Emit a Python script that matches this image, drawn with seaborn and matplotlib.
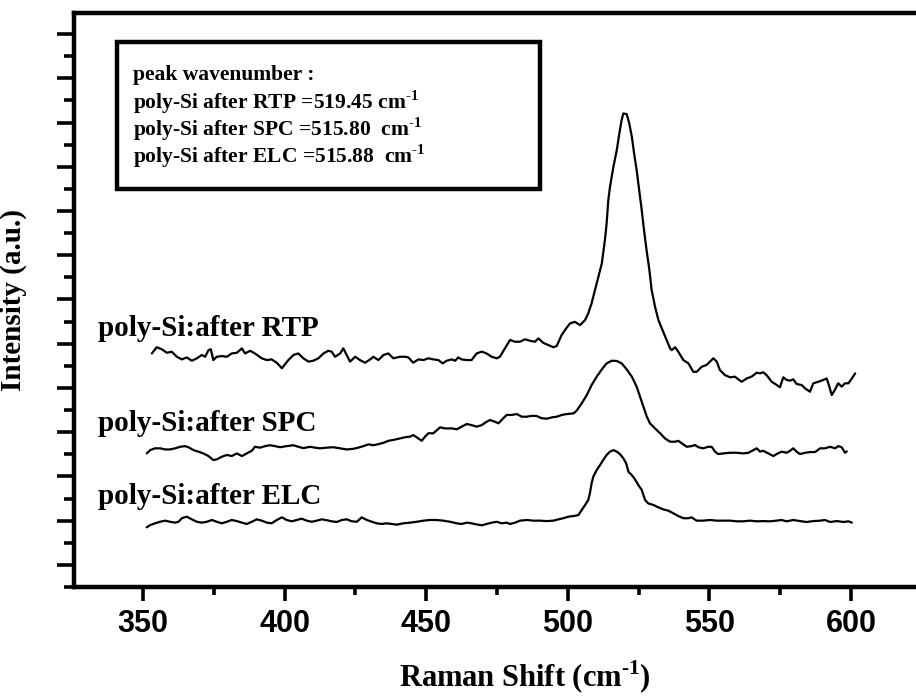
import numpy as np
import pandas as pd
import matplotlib
matplotlib.use("Agg")
import matplotlib.pyplot as plt
from matplotlib.ticker import FixedLocator, MultipleLocator
from matplotlib.patches import Rectangle
import seaborn as sns

# Raman spectra (x: cm-1, y: arbitrary units)
rtp_x = [353.1, 354.8, 356.6, 358.4, 360.1, 361.9, 363.7, 365.4, 367.2, 369.0, 370.7, 371.9,
         373.1, 373.9, 374.8, 376.0, 377.8, 379.6, 381.3, 383.1, 384.9, 386.0, 387.8, 389.5,
         391.9, 393.7, 395.4, 397.2, 399.0, 401.3, 403.1, 404.8, 406.6, 408.4, 410.1, 411.9,
         413.7, 415.4, 416.6, 417.8, 419.6, 420.7, 421.9, 423.1, 424.9, 426.6, 428.4, 430.2,
         431.3, 433.1, 434.9, 436.6, 438.4, 440.7, 442.5, 443.7, 445.4, 447.2, 449.0, 450.7,
         452.5, 454.3, 455.8, 457.2, 459.0, 460.2, 461.3, 462.5, 464.3, 466.0, 467.8, 469.6,
         471.3, 473.1, 474.9, 476.0, 477.8, 479.6, 481.3, 483.1, 484.9, 486.7, 488.4, 489.6,
         491.3, 493.1, 494.9, 496.1, 497.8, 499.4, 500.8, 502.5, 504.3, 506.1, 507.2, 508.4,
         509.6, 510.8, 512.0, 513.1, 513.7, 514.3, 514.9, 516.1, 517.3, 518.2, 519.0, 519.6,
         520.8, 521.7, 522.6, 523.4, 524.3, 525.2, 526.1, 526.9, 527.8, 528.8, 529.6, 530.8,
         532.0, 533.2, 534.9, 536.1, 536.7, 537.9, 539.0, 540.8, 542.6, 544.3, 545.5, 547.3,
         549.0, 550.2, 551.4, 552.6, 553.7, 555.5, 557.3, 559.0, 560.2, 561.4, 563.2, 564.9,
         566.7, 567.9, 569.0, 570.2, 572.0, 573.8, 574.9, 576.1, 577.3, 578.5, 579.6, 580.8,
         582.6, 583.8, 585.5, 586.7, 588.5, 590.2, 591.4, 592.0, 593.2, 594.3, 595.5, 596.7,
         597.9, 599.1, 600.3, 601.5]
rtp_y = [10.56, 10.84, 10.75, 10.59, 10.64, 10.41, 10.29, 10.38, 10.23, 10.34, 10.49, 10.41,
         10.71, 10.75, 10.26, 10.41, 10.44, 10.41, 10.56, 10.59, 10.79, 10.56, 10.68, 10.56,
         10.34, 10.26, 10.29, 10.14, 9.89, 10.26, 10.49, 10.56, 10.34, 10.19, 10.23, 10.34,
         10.56, 10.68, 10.64, 10.41, 10.56, 10.79, 10.49, 10.19, 10.41, 10.26, 10.14, 10.29,
         10.41, 10.26, 10.49, 10.56, 10.34, 10.41, 10.41, 10.38, 10.14, 10.29, 10.26, 10.34,
         10.29, 10.26, 10.11, 10.23, 10.29, 10.23, 10.38, 10.29, 10.26, 10.26, 10.56, 10.64,
         10.56, 10.41, 10.34, 10.41, 10.79, 11.17, 11.09, 11.09, 11.20, 11.13, 11.09, 11.24,
         11.04, 10.94, 10.84, 10.90, 11.39, 11.69, 11.92, 11.99, 11.84, 12.07, 12.37, 12.83,
         13.43, 14.03, 14.63, 15.69, 16.44, 17.50, 18.10, 19.00, 19.76, 20.51, 21.11, 21.41,
         21.38, 20.96, 20.36, 19.61, 18.85, 17.95, 17.04, 16.14, 15.24, 14.33, 13.43, 12.67,
         12.07, 11.69, 11.17, 10.79, 10.71, 10.84, 10.64, 10.26, 10.11, 9.73, 9.73, 9.96,
         10.04, 10.19, 10.34, 10.19, 9.81, 9.58, 9.48, 9.51, 9.39, 9.28, 9.43, 9.51,
         9.69, 9.66, 9.71, 9.58, 9.28, 9.13, 9.03, 9.48, 9.36, 9.33, 9.39, 9.18,
         9.13, 8.98, 8.83, 9.21, 9.28, 9.36, 9.43, 9.21, 8.68, 8.91, 9.21, 9.06,
         9.21, 9.21, 9.43, 9.66]

spc_x = [351.3, 352.5, 354.2, 356.0, 357.8, 359.5, 361.3, 363.1, 364.8, 366.0, 367.8, 369.5,
         371.3, 373.1, 374.8, 376.0, 377.8, 379.6, 381.3, 383.1, 384.9, 386.6, 388.4, 389.5,
         391.3, 393.1, 394.8, 396.6, 398.4, 400.7, 403.1, 404.8, 406.6, 409.0, 410.7, 412.5,
         414.9, 417.2, 419.6, 421.9, 424.3, 426.0, 427.8, 429.6, 431.3, 433.1, 434.9, 436.6,
         438.4, 440.7, 442.5, 444.3, 445.4, 446.6, 448.4, 449.6, 450.7, 452.5, 454.9, 456.6,
         459.0, 460.8, 462.5, 464.3, 466.0, 467.8, 469.6, 471.3, 472.5, 474.3, 475.5, 477.2,
         478.4, 480.2, 482.0, 483.7, 485.5, 487.3, 489.0, 490.8, 492.6, 494.4, 496.1, 497.9,
         499.6, 502.0, 503.1, 504.9, 506.7, 508.4, 510.2, 512.0, 513.7, 515.5, 517.3, 519.0,
         520.8, 522.6, 524.3, 525.5, 526.7, 527.9, 529.0, 530.8, 532.6, 534.3, 536.1, 537.9,
         539.0, 540.2, 542.0, 543.7, 544.9, 546.1, 547.8, 549.6, 550.8, 552.0, 553.1, 554.9,
         557.3, 559.6, 562.0, 563.8, 565.5, 566.7, 567.9, 569.0, 570.8, 572.6, 573.7, 575.5,
         577.3, 578.5, 579.6, 580.8, 582.0, 583.8, 585.5, 587.3, 589.1, 590.8, 592.6, 594.4,
         595.5, 596.7, 597.9, 598.5]
spc_y = [6.04, 6.19, 6.27, 6.27, 6.22, 6.22, 6.27, 6.34, 6.37, 6.32, 6.19, 6.12,
         6.04, 5.92, 5.74, 5.77, 5.89, 5.97, 5.92, 6.04, 5.92, 6.04, 6.16, 6.34,
         6.30, 6.37, 6.41, 6.37, 6.32, 6.37, 6.41, 6.34, 6.28, 6.34, 6.30, 6.27,
         6.30, 6.32, 6.27, 6.22, 6.25, 6.30, 6.37, 6.45, 6.41, 6.46, 6.52, 6.61,
         6.65, 6.72, 6.77, 6.80, 6.87, 6.77, 6.61, 6.80, 6.95, 6.95, 7.22, 7.17,
         7.17, 7.13, 7.25, 7.37, 7.32, 7.25, 7.32, 7.47, 7.55, 7.47, 7.40, 7.63,
         7.78, 7.78, 7.82, 7.70, 7.70, 7.74, 7.73, 7.63, 7.61, 7.67, 7.70, 7.78,
         7.82, 7.85, 7.97, 8.30, 8.68, 9.13, 9.51, 9.84, 10.11, 10.23, 10.22, 10.11,
         9.84, 9.51, 9.06, 8.60, 8.15, 7.70, 7.40, 7.17, 6.95, 6.72, 6.57, 6.57,
         6.61, 6.50, 6.34, 6.37, 6.42, 6.32, 6.27, 6.34, 6.34, 6.12, 6.01, 6.04,
         6.07, 6.07, 6.04, 6.07, 6.19, 6.27, 6.12, 6.16, 6.04, 5.92, 6.01, 6.12,
         6.07, 6.16, 6.27, 6.12, 6.01, 6.07, 6.10, 6.10, 6.27, 6.27, 6.34, 6.27,
         6.37, 6.32, 6.07, 6.13]

elc_x = [351.3, 352.5, 354.2, 356.0, 357.8, 359.5, 361.3, 362.5, 363.7, 365.4, 367.2, 369.0,
         370.7, 372.5, 374.3, 376.0, 377.8, 379.6, 381.3, 383.1, 384.9, 386.6, 388.4, 390.2,
         391.9, 393.7, 395.4, 397.2, 399.0, 400.7, 402.5, 404.3, 406.0, 407.8, 409.6, 411.3,
         413.1, 414.9, 416.6, 418.4, 420.2, 421.9, 423.7, 425.5, 427.2, 429.0, 430.8, 432.5,
         434.3, 436.0, 437.8, 439.6, 441.9, 444.3, 446.6, 449.0, 451.3, 453.7, 456.0, 458.4,
         460.7, 462.5, 464.3, 466.0, 467.8, 469.6, 471.3, 473.1, 474.9, 476.6, 478.4, 479.6,
         481.4, 483.1, 485.5, 487.8, 490.2, 492.6, 494.9, 496.7, 498.4, 500.2, 502.0, 503.7,
         504.9, 506.1, 507.2, 507.8, 508.4, 509.0, 510.2, 511.4, 512.5, 513.7, 514.9, 516.1,
         517.3, 518.4, 519.6, 520.6, 521.4, 522.6, 523.7, 524.9, 526.1, 526.9, 527.3, 528.4,
         530.2, 532.0, 533.7, 535.5, 537.3, 539.0, 540.8, 542.6, 543.7, 545.5, 547.9, 550.2,
         552.6, 554.9, 557.3, 559.6, 562.0, 564.3, 566.7, 569.0, 571.4, 573.7, 575.5, 577.3,
         579.6, 582.0, 584.3, 586.7, 589.1, 590.8, 592.6, 595.0, 597.3, 599.1, 600.3]
elc_y = [2.70, 2.80, 2.88, 2.95, 3.00, 2.95, 2.91, 2.95, 3.11, 3.18, 3.06, 2.95,
         2.91, 2.95, 3.03, 2.95, 2.88, 2.95, 3.03, 2.98, 2.91, 2.85, 2.95, 3.06,
         3.00, 2.91, 2.88, 3.03, 3.15, 3.03, 2.97, 3.03, 3.09, 3.00, 2.95, 3.00,
         3.06, 3.02, 2.97, 2.94, 3.03, 3.06, 2.97, 2.95, 3.15, 3.03, 2.95, 2.88,
         2.85, 2.88, 2.85, 2.82, 2.88, 2.91, 2.95, 3.00, 3.03, 3.03, 3.00, 2.95,
         2.88, 2.85, 2.91, 2.88, 2.83, 2.79, 2.85, 2.91, 2.95, 2.88, 2.91, 2.85,
         2.91, 3.00, 3.03, 3.00, 3.00, 2.98, 3.00, 3.06, 3.11, 3.18, 3.21, 3.25,
         3.48, 3.71, 3.93, 4.24, 4.69, 4.99, 5.29, 5.52, 5.74, 5.97, 6.12, 6.19,
         6.12, 6.01, 5.82, 5.59, 5.21, 5.06, 4.87, 4.61, 4.39, 4.08, 3.93, 3.78,
         3.71, 3.60, 3.51, 3.45, 3.33, 3.21, 3.11, 3.11, 3.15, 3.00, 3.00, 3.03,
         3.00, 3.00, 3.00, 2.97, 2.97, 3.00, 2.97, 2.98, 2.97, 3.00, 3.03, 2.97,
         3.03, 2.98, 2.94, 2.98, 3.00, 3.03, 2.94, 2.98, 2.94, 2.97, 2.91]

series_names = ["poly-Si:after RTP", "poly-Si:after SPC", "poly-Si:after ELC"]
label_y = [11.71, 7.41, 4.07]
box_lines = ["peak wavenumber :",
             r"poly-Si after RTP =519.45 cm$^{\text{-1}}$",
             r"poly-Si after SPC =515.80  cm$^{\text{-1}}$",
             r"poly-Si after ELC =515.88  cm$^{\text{-1}}$"]
x_ticks = [350, 400, 450, 500, 550, 600]

sns.set_theme(style="ticks")
plt.rcParams.update({
    "font.family": ["Liberation Serif", "DejaVu Serif"],
    "mathtext.fontset": "custom",
    "mathtext.rm": "Liberation Serif:bold",
    "mathtext.bf": "Liberation Serif:bold",
    "axes.linewidth": 3.2,
    "text.color": "black",
    "axes.labelcolor": "black",
    "xtick.color": "black",
    "ytick.color": "black",
    "axes.edgecolor": "black",
})

df = pd.concat([
    pd.DataFrame({"shift": rtp_x, "intensity": rtp_y, "sample": series_names[0]}),
    pd.DataFrame({"shift": spc_x, "intensity": spc_y, "sample": series_names[1]}),
    pd.DataFrame({"shift": elc_x, "intensity": elc_y, "sample": series_names[2]}),
])

fig = plt.figure(figsize=(9.16, 6.97), dpi=100)
ax = fig.add_axes([0.0808, 0.1578, 0.9255, 0.8235])

sns.lineplot(data=df, x="shift", y="intensity", units="sample", estimator=None,
             sort=False, color="black", linewidth=1.6, ax=ax, legend=False)

ax.set_xlim(325.6, 625)
ax.set_ylim(0, 25.95)

ax.xaxis.set_major_locator(FixedLocator(x_ticks))
ax.xaxis.set_minor_locator(MultipleLocator(25))
ax.yaxis.set_major_locator(FixedLocator(np.arange(1, 26, 2)))
ax.yaxis.set_minor_locator(MultipleLocator(1))
ax.set_yticklabels([])
ax.tick_params(axis="x", which="major", direction="out", length=10, width=2.6,
               labelsize=22, pad=6, labelcolor="black")
ax.tick_params(axis="x", which="minor", direction="out", length=6, width=2.6)
ax.tick_params(axis="y", which="major", direction="out", length=12, width=2.6)
ax.tick_params(axis="y", which="minor", direction="out", length=7, width=2.6)
for lab in ax.get_xticklabels():
    lab.set_fontfamily("Liberation Sans")
    lab.set_fontweight("bold")

ax.set_xlabel(r"Raman Shift (cm$^{\text{-1}}$)", fontsize=22, fontweight="bold")
ax.set_ylabel("Intensity (a.u.)", fontsize=21, fontweight="bold")
ax.xaxis.set_label_coords(0.532, -0.125)
ax.yaxis.set_label_coords(-0.056, 0.5)

for name, yy in zip(series_names, label_y):
    ax.text(334.1, yy, name, fontsize=21, fontweight="bold", va="center", ha="left")

# annotation box
ax.add_patch(Rectangle((340.8, 17.99), 490.2 - 340.8, 24.64 - 17.99, fill=False,
                       edgecolor="black", linewidth=3.2, zorder=3))
for i, line in enumerate(box_lines):
    ax.text(346.5, 23.16 - i * 1.23, line, fontsize=15.5, fontweight="bold",
            va="center", ha="left")

fig.savefig("out.png", dpi=100, facecolor="white")
